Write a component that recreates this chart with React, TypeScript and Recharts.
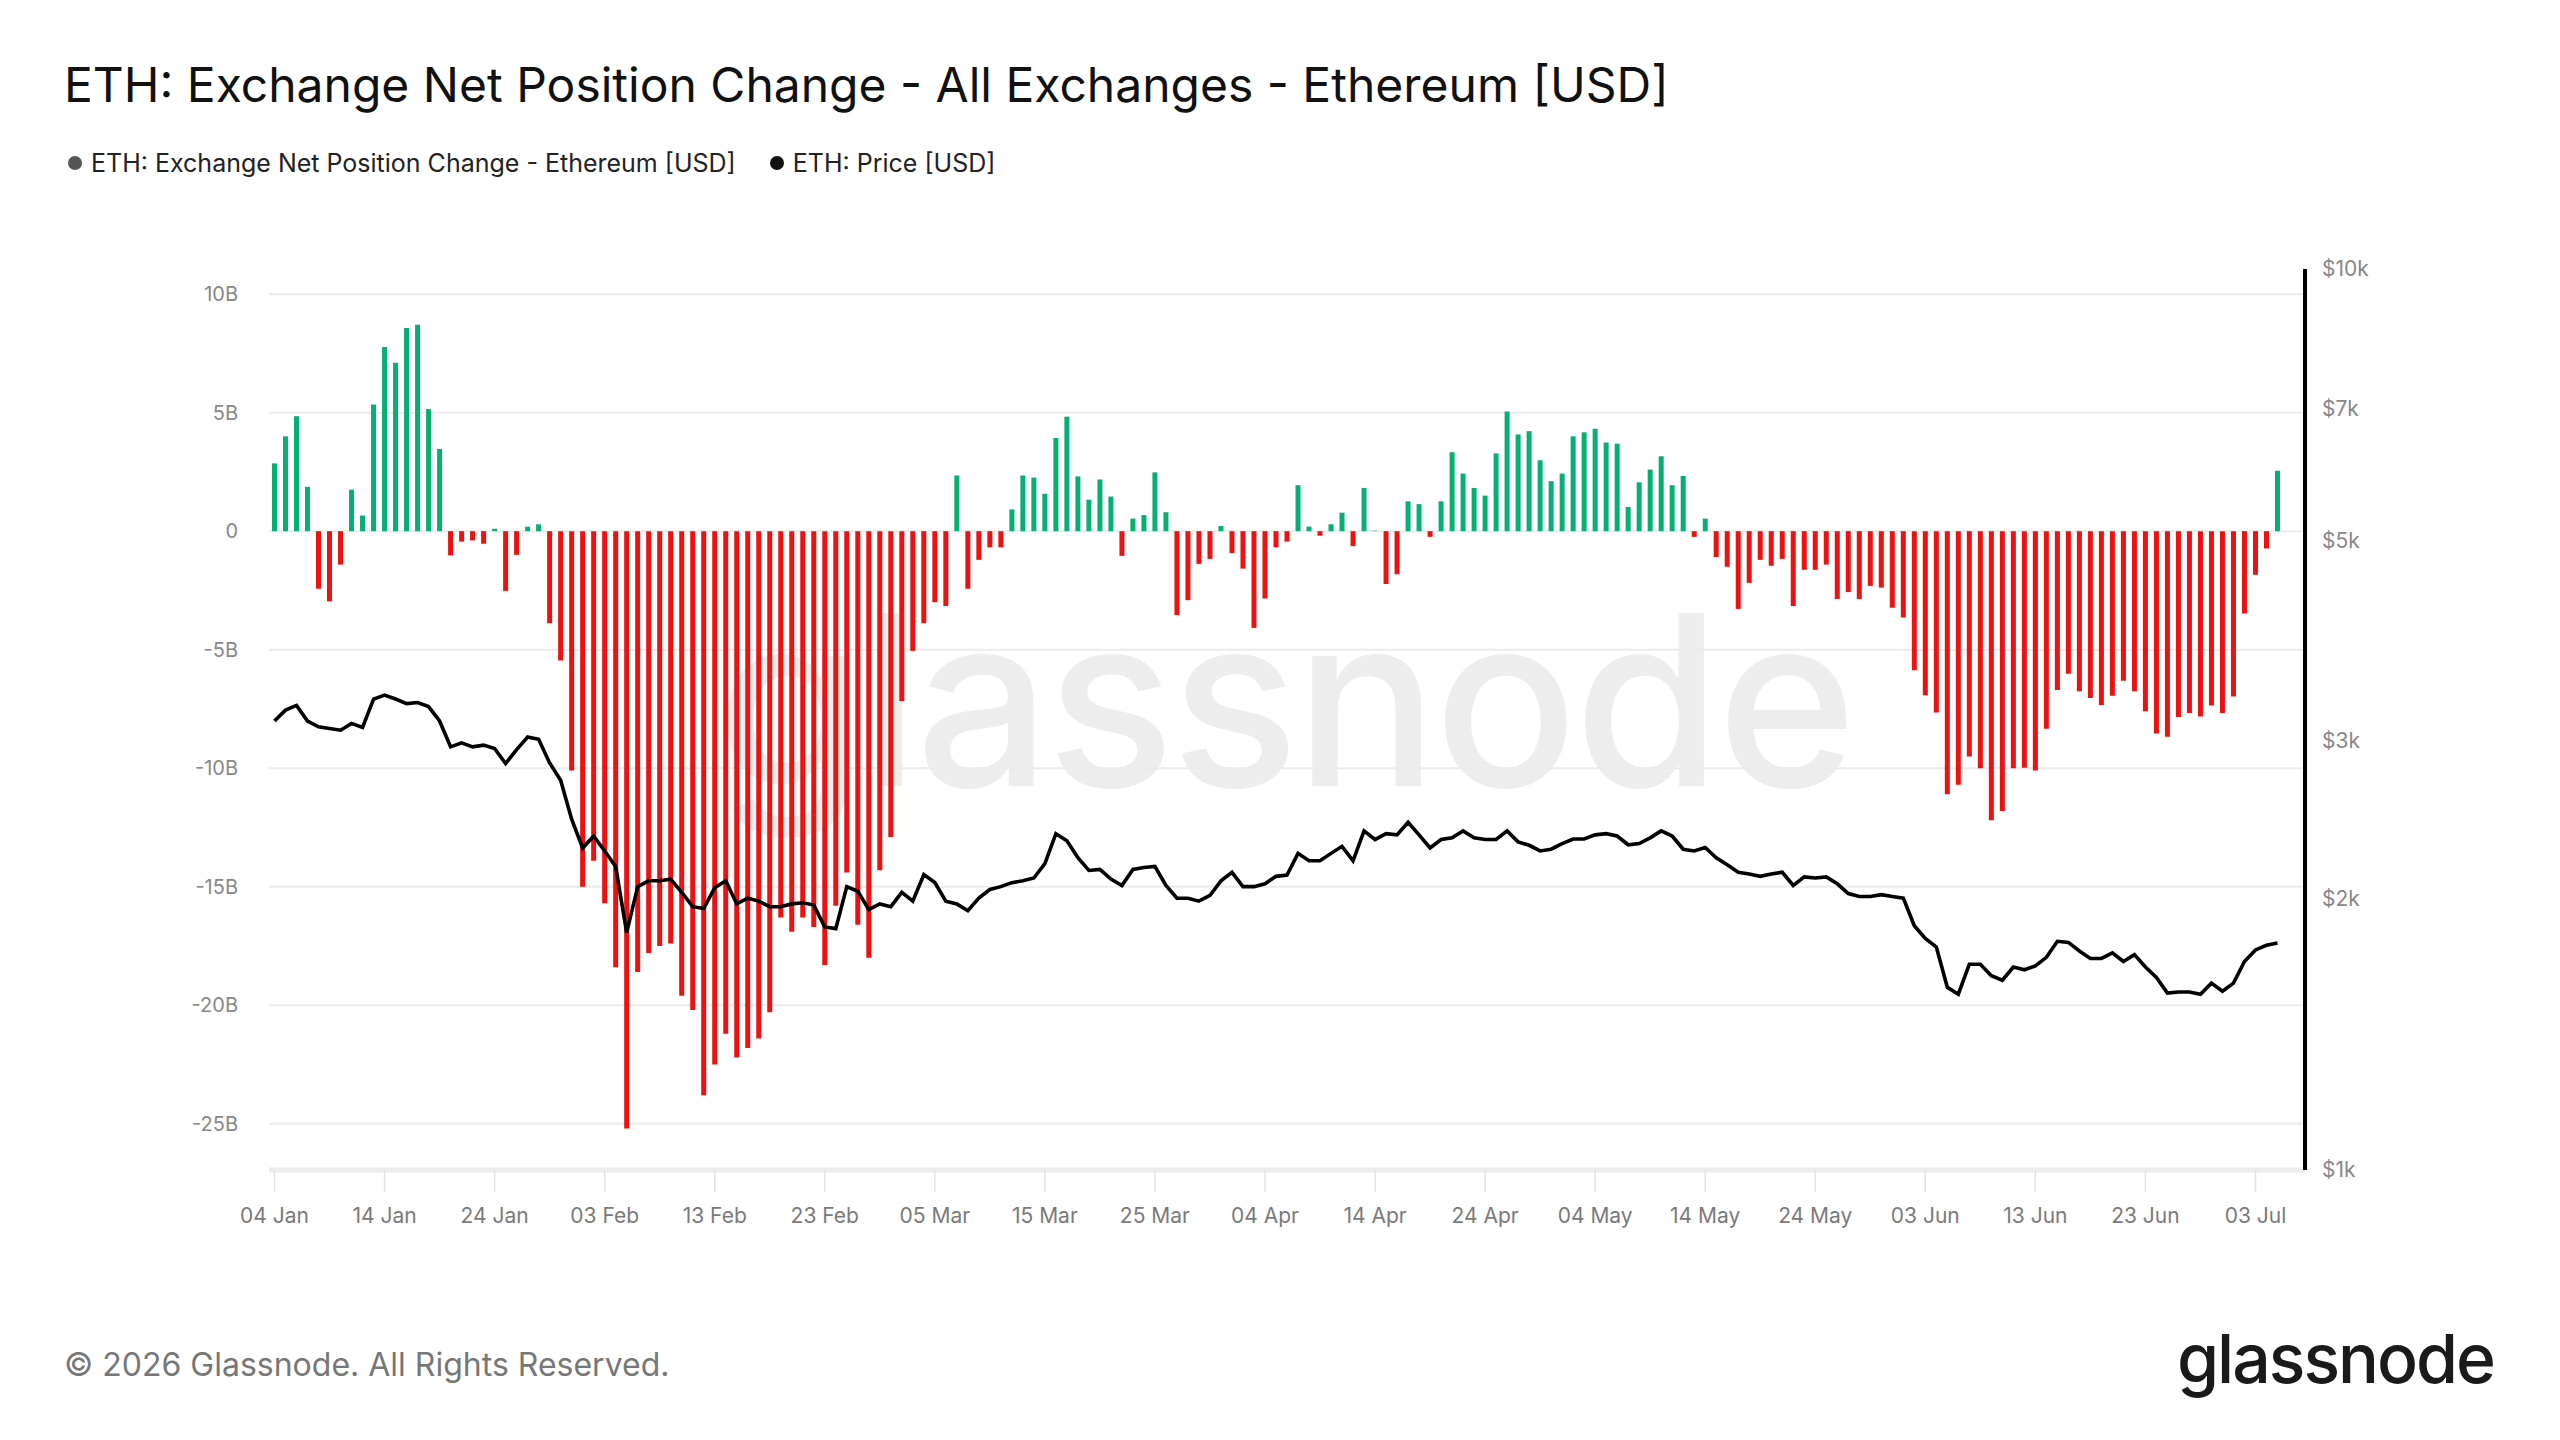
import { ComposedChart, Bar, Line, XAxis, YAxis, CartesianGrid, Cell } from "recharts";

// daily net position change in billions USD, 04 Jan -> 05 Jul
const netFlowB = [
    2.86, 4.0, 4.85, 1.87, -2.43, -2.96, -1.41, 1.75, 0.66, 5.34,
    7.77, 7.11, 8.57, 8.71, 5.15, 3.47, -1.02, -0.44, -0.39, -0.53,
    0.1, -2.52, -1.0, 0.19, 0.29, -3.88, -5.46, -10.1, -15.0, -13.9,
    -15.7, -18.4, -25.2, -18.6, -17.8, -17.5, -17.4, -19.6, -20.2, -23.8,
    -22.5, -21.2, -22.2, -21.8, -21.4, -20.3, -16.3, -16.9, -16.3, -16.7,
    -18.3, -15.8, -14.4, -16.6, -18.0, -14.3, -12.9, -7.16, -5.05, -3.88,
    -3.0, -3.16, 2.35, -2.43, -1.21, -0.68, -0.68, 0.92, 2.35, 2.26,
    1.58, 3.93, 4.83, 2.31, 1.33, 2.18, 1.46, -1.04, 0.53, 0.68,
    2.48, 0.8, -3.54, -2.91, -1.38, -1.17, 0.22, -0.92, -1.58, -4.08,
    -2.84, -0.68, -0.44, 1.94, 0.19, -0.19, 0.29, 0.78, -0.63, 1.82,
    0.02, -2.23, -1.82, 1.26, 1.14, -0.24, 1.26, 3.33, 2.43, 1.82,
    1.5, 3.28, 5.05, 4.08, 4.22, 2.99, 2.11, 2.43, 4.0, 4.17,
    4.32, 3.74, 3.69, 1.02, 2.06, 2.6, 3.16, 1.94, 2.33, -0.24,
    0.53, -1.09, -1.5, -3.28, -2.18, -1.21, -1.46, -1.17, -3.16, -1.63,
    -1.63, -1.41, -2.86, -2.57, -2.86, -2.31, -2.38, -3.23, -3.64, -5.87,
    -6.92, -7.65, -11.1, -10.7, -9.51, -10.0, -12.2, -11.8, -10.0, -9.98,
    -10.1, -8.33, -6.7, -6.02, -6.75, -7.04, -7.33, -6.94, -6.31, -6.75,
    -7.6, -8.54, -8.67, -7.84, -7.67, -7.82, -7.35, -7.67, -6.97, -3.47,
    -1.84, -0.73, 2.55,
];

// ETH price, same days
const priceUsd = [
    3150, 3239, 3278, 3150, 3104, 3091, 3077, 3131, 3099, 3332,
    3366, 3332, 3293, 3302, 3268, 3150, 2949, 2979, 2949, 2962,
    2936, 2826, 2928, 3024, 3006, 2830, 2708, 2451, 2277, 2348,
    2260, 2172, 1834, 2063, 2094, 2094, 2103, 2033, 1960, 1951,
    2057, 2094, 1974, 2003, 1988, 1960, 1960, 1974, 1980, 1968,
    1861, 1853, 2063, 2039, 1945, 1974, 1960, 2033, 1988, 2128,
    2085, 1988, 1974, 1940, 2003, 2048, 2063, 2084, 2094, 2109,
    2188, 2362, 2320, 2221, 2150, 2156, 2103, 2069, 2156, 2166,
    2172, 2069, 2003, 2003, 1988, 2017, 2094, 2140, 2063, 2063,
    2078, 2118, 2125, 2246, 2204, 2204, 2246, 2287, 2204, 2379,
    2327, 2362, 2355, 2432, 2355, 2277, 2327, 2337, 2379, 2337,
    2327, 2327, 2379, 2313, 2293, 2260, 2270, 2303, 2330, 2330,
    2355, 2362, 2348, 2296, 2303, 2337, 2379, 2348, 2270, 2260,
    2280, 2221, 2182, 2140, 2131, 2118, 2131, 2140, 2069, 2115,
    2109, 2115, 2078, 2027, 2012, 2012, 2021, 2012, 2003, 1867,
    1807, 1768, 1595, 1567, 1692, 1692, 1643, 1624, 1680, 1668,
    1685, 1722, 1794, 1789, 1750, 1717, 1717, 1742, 1704, 1734,
    1680, 1636, 1572, 1576, 1576, 1567, 1612, 1579, 1612, 1704,
    1755, 1776, 1786,
];

const xTicks = [0, 10, 20, 30, 40, 50, 60, 70, 80, 90, 100, 110, 120, 130, 140, 150, 160, 170, 180];
const xTickLabels = [
    "04 Jan", "14 Jan", "24 Jan", "03 Feb", "13 Feb", "23 Feb", "05 Mar", "15 Mar", "25 Mar", "04 Apr",
    "14 Apr", "24 Apr", "04 May", "14 May", "24 May", "03 Jun", "13 Jun", "23 Jun", "03 Jul",
];
const flowTicks = [10, 5, 0, -5, -10, -15, -20, -25];
const priceTicks = [1000, 2000, 3000, 5000, 7000, 10000];

const data = netFlowB.map((v, i) => ({ idx: i, flow: v, price: priceUsd[i] }));

const FONT = "Inter, 'Noto Sans', sans-serif";
const GREEN = "#05b070";
const RED = "#ee1111";

export default function App() {
    return (
        <div style={{ position: "absolute", left: 0, top: 0, width: 2560, height: 1440, background: "#fff", fontFamily: FONT, overflow: "hidden" }}>
            <div style={{ position: "absolute", left: 64, top: 55, fontSize: 48, color: "#111", lineHeight: "60px", whiteSpace: "nowrap" }}>
                ETH: Exchange Net Position Change - All Exchanges - Ethereum [USD]
            </div>
            <div style={{ position: "absolute", left: 68, top: 148, display: "flex", alignItems: "center", fontSize: 25, color: "#222", whiteSpace: "nowrap", lineHeight: "30px" }}>
                <span style={{ width: 14, height: 14, borderRadius: 7, background: "#555", marginRight: 9 }} />
                <span>ETH: Exchange Net Position Change - Ethereum [USD]</span>
                <span style={{ width: 14, height: 14, borderRadius: 7, background: "#111", marginLeft: 34, marginRight: 9 }} />
                <span>ETH: Price [USD]</span>
            </div>

            {/* watermark, sits under the chart */}
            <div style={{ position: "absolute", left: 716, top: 580, fontSize: 238, lineHeight: 1, color: "rgba(0,0,0,0.07)", fontWeight: 500, letterSpacing: -4, whiteSpace: "nowrap" }}>
                glassnode
            </div>

            <div style={{ position: "absolute", left: 0, top: 0 }}>
                <ComposedChart width={2560} height={1440} data={data} margin={{ top: 269, right: 155, bottom: 210, left: 189 }}>
                    <CartesianGrid yAxisId="left" vertical={false} horizontalValues={flowTicks} stroke="#ebebeb" strokeWidth={2} />
                    <XAxis
                        type="number"
                        dataKey="idx"
                        domain={[-0.5, 184.5]}
                        ticks={xTicks}
                        tickFormatter={(v: number) => xTickLabels[xTicks.indexOf(v)]}
                        axisLine={{ stroke: "#ececec", strokeWidth: 5 }}
                        tickLine={{ stroke: "#e2e2e2", strokeWidth: 1.5 }}
                        tickSize={22}
                        tickMargin={16}
                        tick={{ fill: "#7a7a7a", fontSize: 21, fontFamily: FONT }}
                        height={60}
                        allowDataOverflow
                    />
                    <YAxis
                        yAxisId="left"
                        domain={[-26.95, 11.06]}
                        ticks={flowTicks}
                        tickFormatter={(v: number) => (v === 0 ? "0" : `${v}B`)}
                        axisLine={false}
                        tickLine={false}
                        tickSize={0}
                        tickMargin={31}
                        tick={{ fill: "#888", fontSize: 20, fontFamily: FONT }}
                        width={80}
                        allowDataOverflow
                    />
                    <YAxis
                        yAxisId="right"
                        orientation="right"
                        scale="log"
                        domain={[1000, 10000]}
                        ticks={priceTicks}
                        tickFormatter={(v: number) => `$${v / 1000}k`}
                        axisLine={{ stroke: "#000", strokeWidth: 4 }}
                        tickLine={false}
                        tickSize={0}
                        tickMargin={17}
                        tick={{ fill: "#888", fontSize: 21, fontFamily: FONT, textAnchor: "start" }}
                        width={100}
                        allowDataOverflow
                    />
                    <Bar yAxisId="left" dataKey="flow" barSize={5} isAnimationActive={false}>
                        {data.map((d) => (
                            <Cell key={d.idx} fill={d.flow >= 0 ? GREEN : RED} />
                        ))}
                    </Bar>
                    <Line
                        yAxisId="right"
                        dataKey="price"
                        type="linear"
                        stroke="#000"
                        strokeWidth={3.6}
                        dot={false}
                        isAnimationActive={false}
                    />
                </ComposedChart>
            </div>

            <div style={{ position: "absolute", left: 64, top: 1345, fontSize: 32, color: "#777", whiteSpace: "nowrap", lineHeight: "40px" }}>
                © 2026 Glassnode. All Rights Reserved.
            </div>
            <div style={{ position: "absolute", right: 66, top: 1318, fontSize: 68, color: "#1a1a1a", fontWeight: 500, letterSpacing: -2, whiteSpace: "nowrap", lineHeight: "80px" }}>
                glassnode
            </div>
        </div>
    );
}
